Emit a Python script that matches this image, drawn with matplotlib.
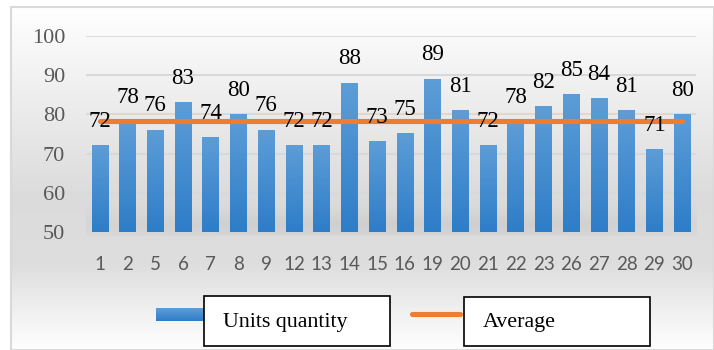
import numpy as np
import matplotlib
matplotlib.use("Agg")
import matplotlib.pyplot as plt
from matplotlib.patches import Rectangle
from matplotlib.lines import Line2D

# Data
categories = ["1", "2", "5", "6", "7", "8", "9", "12", "13", "14", "15",
              "16", "19", "20", "21", "22", "23", "26", "27", "28", "29", "30"]
units_quantity = [72, 78, 76, 83, 74, 80, 76, 72, 72, 88, 73,
                  75, 89, 81, 72, 78, 82, 85, 84, 81, 71, 80]
y_ticks = [50, 60, 70, 80, 90, 100]
average = float(np.mean(units_quantity))

W, H = 714, 350
fig = plt.figure(figsize=(W / 100, H / 100), dpi=100)
fig.patch.set_facecolor("white")

# Background layer in pixel coordinates
bg = fig.add_axes([0, 0, 1, 1], zorder=0)
bg.set_xlim(0, W)
bg.set_ylim(H, 0)
bg.axis("off")
ys = np.linspace(0, 1, 400)
stops_y = [0.0, 0.55, 0.75, 1.0]
stops_v = [1.0, 0.86, 0.87, 1.0]
shade = np.interp(ys, stops_y, stops_v)
grad = np.repeat(np.repeat(shade[:, None], 2, axis=1)[:, :, None], 3, axis=2)
bg.imshow(grad, extent=[11, W, H, 7], aspect="auto", interpolation="bilinear", zorder=0)
bg.add_patch(Rectangle((11, 7), W - 11, H - 7, fill=False, edgecolor="#d9d9d9", lw=1.5, zorder=1))

# Soft shadow band under the columns
sy = np.linspace(0, 1, 100)
alpha = np.exp(-((sy - 0.75) / 0.28) ** 2) * 0.12
sx = np.linspace(0, 1, 300)
ax_alpha = np.exp(-((sx - 0.5) / 0.55) ** 4)
shadow = np.zeros((100, 300, 4))
shadow[..., :3] = 0.45
shadow[..., 3] = alpha[:, None] * ax_alpha[None, :]
bg.imshow(shadow, extent=[86, 697, 236, 190], aspect="auto", interpolation="bilinear", zorder=1)

# Main chart axes
left, right, top, bottom = 86, 696, 36, 232
ax = fig.add_axes([left / W, 1 - bottom / H, (right - left) / W, (bottom - top) / H], zorder=2)
ax.patch.set_alpha(0)
x = np.arange(len(categories))

for yv in y_ticks[1:]:
    ax.axhline(yv, color="#d9d9d9", lw=1.5, zorder=1)

# Columns with a vertical blue gradient
top_c = np.array([93, 157, 215]) / 255
bot_c = np.array([46, 125, 200]) / 255
t = np.linspace(0, 1, 100)[:, None]
col_grad = (top_c[None, :] * (1 - t) + bot_c[None, :] * t)[:, None, :]
bw = 0.6
for xi, v in zip(x, units_quantity):
    ax.imshow(col_grad, extent=[xi - bw / 2, xi + bw / 2, 50, v],
              aspect="auto", interpolation="bilinear", zorder=2)
ax.set_aspect("auto")
ax.set_xlim(-0.5, len(categories) - 0.5)
ax.set_ylim(50, 100)

# Average line
ax.plot([x[0], x[-1]], [average, average], color="#ED7D31", lw=3.7,
        solid_capstyle="round", zorder=3)

# Value labels
for xi, v in zip(x, units_quantity):
    ax.annotate(str(v), (xi, v), xytext=(0, 17.5), textcoords="offset points",
                ha="center", va="center", fontsize=16.5, family="Liberation Serif",
                color="black", zorder=4)

for s in ax.spines.values():
    s.set_visible(False)
ax.set_yticks(y_ticks)
ax.set_yticklabels([str(v) for v in y_ticks], family="Liberation Serif",
                   fontsize=16, color="#595959")
ax.set_xticks(x)
ax.set_xticklabels(categories, family="Lato", fontsize=13.5, color="#595959")
ax.tick_params(axis="y", length=0, pad=15)
ax.tick_params(axis="x", length=0, pad=17)

# Legend drawn in pixel coordinates
lg = fig.add_axes([0, 0, 1, 1], zorder=5)
lg.axis("off")
lg.patch.set_alpha(0)
tp = np.linspace(0, 1, 20)[:, None]
patch_grad = (top_c[None, :] * (1 - tp) + bot_c[None, :] * tp)[:, None, :]
lg.imshow(patch_grad, extent=[156, 204, 321, 308], aspect="auto", interpolation="bilinear")
lg.add_patch(Rectangle((204, 296), 186, 50, facecolor="white", edgecolor="black", lw=1.2))
lg.text(223, 323, "Units quantity", family="Liberation Serif", fontsize=15.8,
        va="center", ha="left", color="black")
lg.add_line(Line2D([412, 460], [314, 314], color="#ED7D31", lw=3.7, solid_capstyle="round"))
lg.add_patch(Rectangle((464, 297), 186, 49, facecolor="white", edgecolor="black", lw=1.2))
lg.text(483, 323, "Average", family="Liberation Serif", fontsize=15.8,
        va="center", ha="left", color="black")
lg.set_xlim(0, W)
lg.set_ylim(H, 0)

fig.savefig("out.png", dpi=100, facecolor="white")
